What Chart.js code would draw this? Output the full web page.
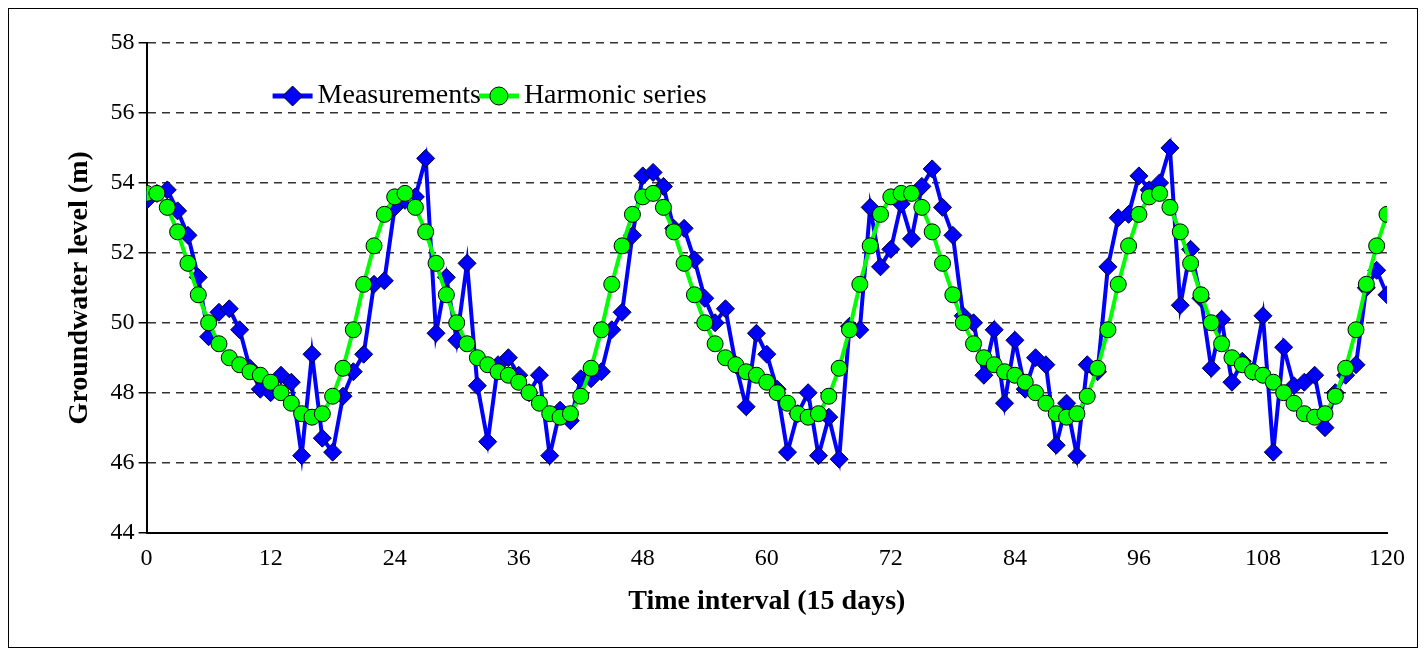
<!DOCTYPE html>
<html>
<head>
<meta charset="utf-8">
<script src="https://cdn.jsdelivr.net/npm/chart.js@4.4.0/dist/chart.umd.min.js"></script>
<style>
  body { margin: 0; background: #fff; }
  #wrap { position: absolute; left: 8px; top: 8px; width: 1410px; height: 640px; border: 1px solid #000; box-sizing: border-box; }
  canvas { display: block; }
</style>
</head>
<body>
<div id="wrap"><canvas id="myChart" width="1408" height="638"></canvas></div>
<script>
// groundwater level readings, one per 15-day interval (0..120)
var measurements = [53.5, 53.7, 53.8, 53.2, 52.5, 51.3, 49.6, 50.3, 50.4, 49.8,
  48.7, 48.1, 48.0, 48.5, 48.3, 46.2, 49.1, 46.7, 46.3, 47.9,
  48.6, 49.1, 51.1, 51.2, 53.3, 53.5, 53.6, 54.7, 49.7, 51.3,
  49.5, 51.7, 48.2, 46.6, 48.8, 49.0, 48.5, 48.0, 48.5, 46.2,
  47.5, 47.2, 48.4, 48.4, 48.6, 49.8, 50.3, 52.5, 54.2, 54.3,
  53.9, 52.7, 52.7, 51.8, 50.7, 50.0, 50.4, 48.8, 47.6, 49.7,
  49.1, 48.1, 46.3, 47.4, 48.0, 46.2, 47.3, 46.1, 49.9, 49.8,
  53.3, 51.6, 52.1, 53.4, 52.4, 53.9, 54.4, 53.3, 52.5, 50.2,
  50.0, 48.5, 49.8, 47.7, 49.5, 48.1, 49.0, 48.8, 46.5, 47.7,
  46.2, 48.8, 48.6, 51.6, 53.0, 53.1, 54.2, 53.8, 54.0, 55.0,
  50.5, 52.1, 50.7, 48.7, 50.1, 48.3, 48.9, 48.6, 50.2, 46.3,
  49.3, 48.2, 48.3, 48.5, 47.0, 48.0, 48.5, 48.8, 51.0, 51.5, 50.8];

var harmonic = [53.7, 53.7, 53.3, 52.6, 51.7, 50.8, 50.0, 49.4, 49.0, 48.8,
  48.6, 48.5, 48.3, 48.0, 47.7, 47.4, 47.3, 47.4, 47.9, 48.7,
  49.8, 51.1, 52.2, 53.1, 53.6, 53.7, 53.3, 52.6, 51.7, 50.8,
  50.0, 49.4, 49.0, 48.8, 48.6, 48.5, 48.3, 48.0, 47.7, 47.4,
  47.3, 47.4, 47.9, 48.7, 49.8, 51.1, 52.2, 53.1, 53.6, 53.7,
  53.3, 52.6, 51.7, 50.8, 50.0, 49.4, 49.0, 48.8, 48.6, 48.5,
  48.3, 48.0, 47.7, 47.4, 47.3, 47.4, 47.9, 48.7, 49.8, 51.1,
  52.2, 53.1, 53.6, 53.7, 53.7, 53.3, 52.6, 51.7, 50.8, 50.0,
  49.4, 49.0, 48.8, 48.6, 48.5, 48.3, 48.0, 47.7, 47.4, 47.3,
  47.4, 47.9, 48.7, 49.8, 51.1, 52.2, 53.1, 53.6, 53.7, 53.3,
  52.6, 51.7, 50.8, 50.0, 49.4, 49.0, 48.8, 48.6, 48.5, 48.3,
  48.0, 47.7, 47.4, 47.3, 47.4, 47.9, 48.7, 49.8, 51.1, 52.2, 53.1];

var xTicks = [0, 12, 24, 36, 48, 60, 72, 84, 96, 108, 120];

var toPoints = function(arr) {
  return arr.map(function(v, i) { return { x: i, y: v }; });
};

// legend drawn inside the plot, line + marker like the original
var innerLegend = {
  id: 'innerLegend',
  afterDraw: function(chart) {
    var c = chart.ctx;
    var x = chart.chartArea.left + 126;
    var y = chart.chartArea.top + 53;
    c.save();
    c.font = "28px 'Liberation Serif', serif";
    c.textBaseline = 'middle';
    chart.data.datasets.forEach(function(ds) {
      c.strokeStyle = ds.borderColor;
      c.lineWidth = 5;
      c.beginPath(); c.moveTo(x, y); c.lineTo(x + 40, y); c.stroke();
      c.fillStyle = ds.backgroundColor;
      c.strokeStyle = '#000';
      c.lineWidth = 1;
      c.beginPath();
      if (ds.pointStyle === 'rectRot') {
        c.moveTo(x + 20, y - 10); c.lineTo(x + 30, y); c.lineTo(x + 20, y + 10); c.lineTo(x + 10, y);
        c.closePath();
      } else {
        c.arc(x + 20, y, 9, 0, Math.PI * 2);
      }
      c.fill(); c.stroke();
      c.fillStyle = '#000';
      c.fillText(ds.label, x + 45, y);
      x += 45 + c.measureText(ds.label).width - 2;
    });
    c.restore();
  }
};

Chart.defaults.font.family = "'Liberation Serif', 'Times New Roman', serif";
Chart.defaults.color = '#000';

var ctx = document.getElementById('myChart').getContext('2d');
var chart = new Chart(ctx, {
  type: 'line',
  data: {
    datasets: [{
      label: 'Measurements',
      data: toPoints(measurements),
      order: 2,
      borderColor: '#0000ff',
      backgroundColor: '#0000ff',
      borderWidth: 4,
      pointStyle: 'rectRot',
      pointRadius: 9,
      pointBorderColor: '#000033',
      pointBorderWidth: 1,
      tension: 0
    }, {
      label: 'Harmonic series',
      data: toPoints(harmonic),
      order: 1,
      borderColor: '#00ff00',
      backgroundColor: '#00ff00',
      borderWidth: 4,
      pointStyle: 'circle',
      pointRadius: 8,
      pointBorderColor: '#000',
      pointBorderWidth: 1,
      tension: 0
    }]
  },
  options: {
    responsive: false,
    animation: false,
    layout: { padding: { left: 50, right: 30, top: 34, bottom: 24 } },
    plugins: {
      legend: { display: false },
      tooltip: { enabled: false }
    },
    scales: {
      x: {
        type: 'linear',
        min: 0,
        max: 120,
        afterBuildTicks: function(axis) {
          axis.ticks = xTicks.map(function(v) { return { value: v }; });
        },
        grid: { display: false, drawTicks: true, tickLength: 8, tickColor: '#000' },
        border: { color: '#000', width: 2 },
        ticks: { font: { size: 24 }, padding: 4, maxRotation: 0 },
        title: { display: true, text: 'Time interval (15 days)', font: { size: 28, weight: 'bold' }, padding: { top: 8 } }
      },
      y: {
        min: 44,
        max: 58,
        ticks: { stepSize: 2, font: { size: 24 }, padding: 4 },
        grid: {
          color: function(c) { return (c.tick.value === 44) ? 'rgba(0,0,0,0)' : '#333'; },
          tickColor: '#000',
          tickLength: 8,
          lineWidth: 1.5
        },
        border: { color: '#000', width: 2, dash: [8, 6] },
        title: { display: true, text: 'Groundwater level (m)', font: { size: 28, weight: 'bold' }, padding: { bottom: 10 } }
      }
    }
  },
  plugins: [innerLegend]
});
</script>
</body>
</html>
